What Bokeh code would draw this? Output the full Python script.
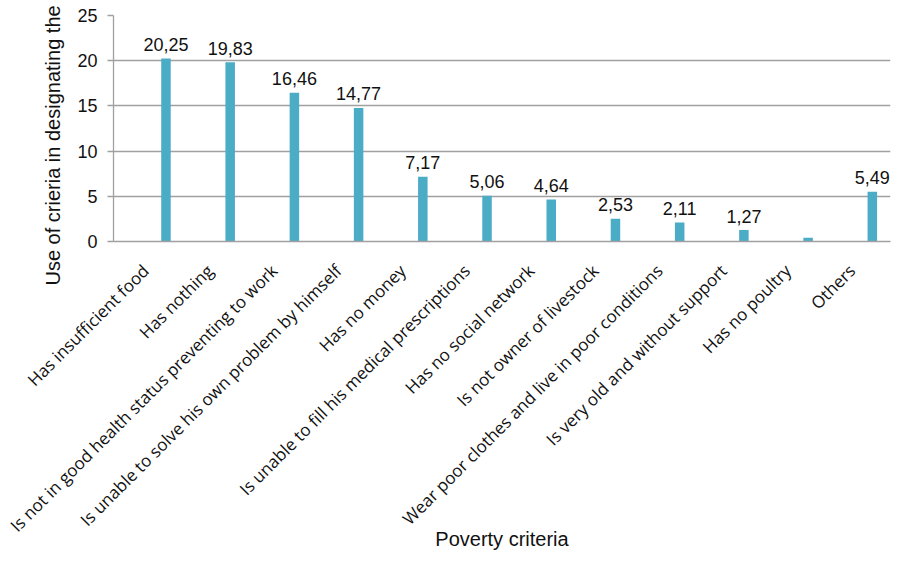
import math
from bokeh.plotting import figure
from bokeh.models import Range1d, FixedTicker, Title, ColumnDataSource
from bokeh.core.properties import value
from bokeh.embed import file_html
from bokeh.resources import INLINE

categories = [
    "Has insufficient food",
    "Has nothing",
    "Is not in good health status preventing to work",
    "Is unable to solve his own problem by himself",
    "Has no money",
    "Is unable to fill his medical prescriptions",
    "Has no social network",
    "Is not owner of livestock",
    "Wear poor clothes and live in poor conditions",
    "Is very old and without support",
    "Has no poultry",
    "Others",
]
values = [20.25, 19.83, 16.46, 14.77, 7.17, 5.06, 4.64, 2.53, 2.11, 1.27, 0.42, 5.49]
show_value = [True, True, True, True, True, True, True, True, True, True, False, True]
y_ticks = [0, 5, 10, 15, 20, 25]
y_title = "Use of crieria in designating the"
x_title = "Poverty criteria"

W, H = 892, 552
BORDER_L, BORDER_R, BORDER_T, BORDER_B = 113, 2, 15, 311
BAR = "#4BACC6"
GRID = "#a0a0a0"
BAR_SHIFT = 0.317   # bars sit right of the category centre (empty first series)
BAR_W = 0.148

n = len(categories)
centers = [i + 0.5 for i in range(n)]
bar_x = [c + BAR_SHIFT for c in centers]
labels = [f"{v:.2f}".replace(".", ",") if s else "" for v, s in zip(values, show_value)]
src = ColumnDataSource(dict(x=bar_x, val=values, lab=labels))

p = figure(width=W, height=H, output_backend="svg", toolbar_location=None,
           x_range=Range1d(0, n + 0.1), y_range=Range1d(0, 25),
           min_border_left=BORDER_L, min_border_right=BORDER_R, min_border_top=BORDER_T,
           min_border_bottom=BORDER_B)
p.outline_line_color = None
p.background_fill_color = "white"

p.vbar(x="x", top="val", width=BAR_W, source=src, fill_color=BAR, line_color=None)
p.text(x="x", y="val", text="lab", source=src,
       text_align="center", text_baseline="alphabetic", y_offset=-14,
       text_font=value("Liberation Sans"), text_font_size="18px", text_color="#111111")

p.xgrid.grid_line_color = None
p.ygrid.grid_line_color = GRID
p.ygrid.grid_line_width = 1.3
p.yaxis.ticker = FixedTicker(ticks=y_ticks)

p.yaxis.axis_line_color = GRID
p.yaxis.axis_line_width = 1.3
p.yaxis.major_tick_line_color = GRID
p.yaxis.major_tick_line_width = 1.3
p.yaxis.major_tick_out = 6
p.yaxis.major_tick_in = 0
p.yaxis.minor_tick_line_color = None
p.yaxis.major_label_standoff = 10
p.yaxis.major_label_text_font = "Liberation Sans"
p.yaxis.major_label_text_font_size = "18px"
p.yaxis.major_label_text_color = "#111111"

p.xaxis.ticker = FixedTicker(ticks=centers)
p.xaxis.major_label_overrides = {c: cat for c, cat in zip(centers, categories)}
p.xaxis.axis_line_color = GRID
p.xaxis.axis_line_width = 1.3
p.xaxis.major_tick_line_color = None
p.xaxis.minor_tick_line_color = None
p.xaxis.major_label_orientation = math.pi / 4
p.xaxis.major_label_standoff = 20
p.xaxis.major_label_text_font = "Open Sans"
p.xaxis.major_label_text_font_size = "17px"
p.xaxis.major_label_text_color = "#111111"
p.xaxis.axis_label = x_title
p.xaxis.axis_label_standoff = -20
p.xaxis.axis_label_text_font = "Liberation Sans"
p.xaxis.axis_label_text_font_size = "20px"
p.xaxis.axis_label_text_font_style = "normal"
p.xaxis.axis_label_text_color = "#111111"

p.add_layout(Title(text=y_title, align="left", offset=-44, standoff=21,
                   text_font="Liberation Sans", text_font_size="20px",
                   text_font_style="normal", text_color="#111111"), "left")

open("out.html", "w").write(file_html(p, INLINE))
